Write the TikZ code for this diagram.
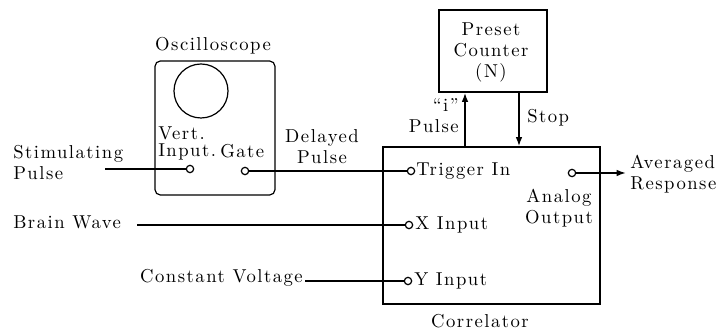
\documentclass[tikz,border=0pt]{standalone}
\usepackage{fontspec}
\setmainfont{lmroman10-regular}[Extension=.otf, LetterSpace=8]
\usetikzlibrary{arrows.meta}
\begin{document}
\begin{tikzpicture}[x=0.75pt,y=-0.75pt,
  lbl/.style={font=\fontsize{14}{15.75}\selectfont, inner sep=0pt},
  tight/.style={font=\fontsize{14}{12.75}\selectfont},
  term/.style={circle,draw,line width=0.9pt,minimum size=5.5pt,inner sep=0pt,fill=white},
  wire/.style={line width=1.3pt},
  box/.style={draw,line width=0.9pt,inner sep=0pt},
  arr/.style={wire,-{Latex[length=7pt,width=5pt]}}]
\useasboundingbox (0,0) rectangle (726,334);

% boxes
\node[box,rounded corners=4pt,minimum width=90pt,minimum height=100.5pt] (osc) at (215,128) {};
\node[box,circle,minimum size=40.5pt] (scr) at (201,91) {};
\node[box,minimum width=81pt,minimum height=61.5pt] (cnt) at (493,51) {};
\node[box,minimum width=162.75pt,minimum height=117.75pt] (cor) at (491.5,225.5) {};

% labels
\node[lbl] (oscl) at (213,46) {Oscilloscope};
\node[lbl,tight,align=left,anchor=west] (vi) at (158,143) {Vert.\\Input.};
\node[lbl,anchor=west] (gate) at (220,151) {Gate};
\node[lbl,align=left,anchor=west] (stim) at (13,163) {Stimulating\\Pulse};
\node[lbl,align=center] (dly) at (322,147) {Delayed\\Pulse};
\node[lbl,align=center] (cntl) at (491,52) {Preset\\Counter\\(N)};
\node[lbl,align=right,anchor=east] (ipl) at (459,116) {``i''\\Pulse};
\node[lbl,anchor=west] (stop) at (527,118) {Stop};
\node[lbl,anchor=west] (bw) at (13,222) {Brain Wave};
\node[lbl,anchor=east] (cv) at (303,278) {Constant Voltage};
\node[lbl,anchor=west] (trg) at (416,171) {Trigger In};
\node[lbl,anchor=west] (xin) at (415,225) {X Input};
\node[lbl,anchor=west] (yin) at (414,281) {Y Input};
\node[lbl,align=center] (ao) at (559,208) {Analog\\Output};
\node[lbl,align=left,anchor=west] (avr) at (630,174) {Averaged\\Response};
\node[lbl] (corl) at (480,321) {Correlator};

% terminals
\node[term] (tvi) at (190,169) {};
\node[term] (tg) at (245,171) {};
\node[term] (ttr) at (411,171) {};
\node[term] (tx) at (409,225) {};
\node[term] (ty) at (408,281) {};
\node[term] (tao) at (572,173) {};

% free ends
\coordinate (sp) at (105,169);
\coordinate (bwe) at (137,225);
\coordinate (cve) at (305,281);
\coordinate (are) at (626,173);
\coordinate (ipx) at (465,120);
\coordinate (stx) at (519,120);

% wires
\draw[wire] (sp) -- (tvi);
\draw[wire] (tg) -- (ttr);
\draw[wire] (bwe) -- (tx);
\draw[wire] (cve) -- (ty);
\draw[arr] (tao) -- (are);
\draw[arr] (ipx |- cor.north) -- (ipx |- cnt.south);
\draw[arr] (stx |- cnt.south) -- (stx |- cor.north);
\end{tikzpicture}
\end{document}
